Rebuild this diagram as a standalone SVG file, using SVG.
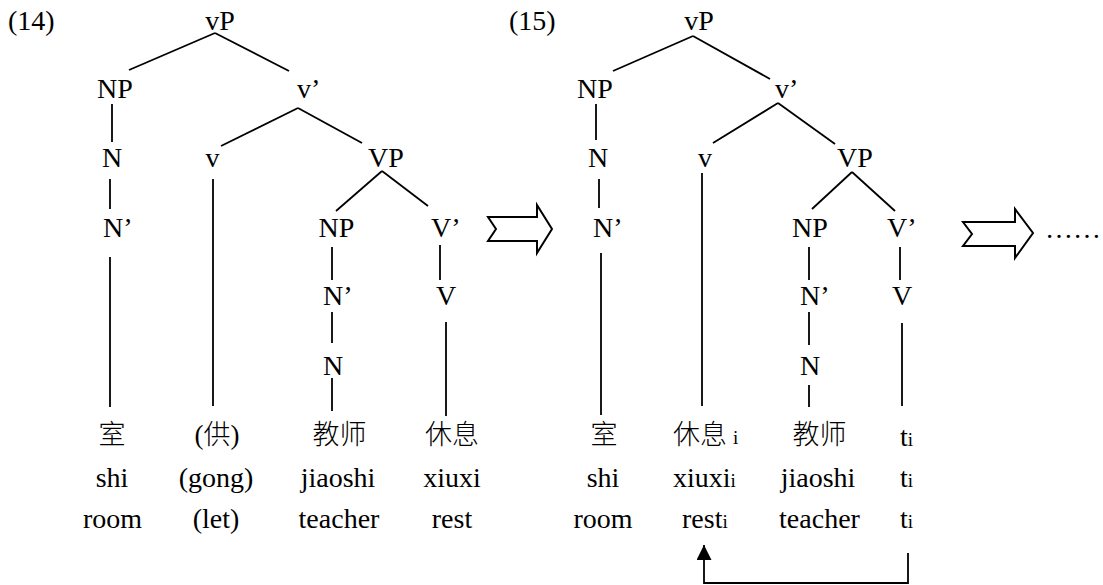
<svg xmlns="http://www.w3.org/2000/svg" width="1103" height="585" viewBox="0 0 1103 585">
<style>
text{font-size:28px;fill:#000}
.m{text-anchor:middle}
.cj{font-size:27px;font-weight:300}
.sub{font-size:19px}
.e line,.e polyline{stroke:#000;stroke-width:1.8;fill:none}
.ar{fill:#fff;stroke:#000;stroke-width:2;stroke-linejoin:miter}
</style>
<defs>
<marker id="ah" viewBox="0 0 10 10" refX="10" refY="5" markerWidth="16" markerHeight="15" orient="auto" markerUnits="userSpaceOnUse">
<path d="M0,0L10,5L0,10z" fill="#000"/>
</marker>
</defs>
<rect width="1103" height="585" fill="#fff"/>
<g font-family="'Liberation Serif', 'Times New Roman', 'DejaVu Serif', serif">
<g id="labels">
<text x="8" y="30">(14)</text>
<text x="509" y="30">(15)</text>
</g>

<g id="tree14">
<g id="t14-vP"><text class="m" x="220" y="30">vP</text></g>
<g id="t14-NP"><text class="m" x="115" y="98">NP</text></g>
<g id="t14-vbar"><text x="297" y="98">v’</text></g>
<g id="t14-N"><text class="m" x="112" y="167">N</text></g>
<g id="t14-v"><text class="m" x="212.5" y="167">v</text></g>
<g id="t14-VP"><text class="m" x="386" y="167">VP</text></g>
<g id="t14-Nbar"><text x="103" y="237">N’</text></g>
<g id="t14-NP2"><text class="m" x="336.5" y="237">NP</text></g>
<g id="t14-Vbar"><text x="431" y="237">V’</text></g>
<g id="t14-Nbar2"><text x="323" y="305">N’</text></g>
<g id="t14-V"><text class="m" x="446" y="305">V</text></g>
<g id="t14-N2"><text class="m" x="333" y="375">N</text></g>
<g id="t14-w1"><text class="m cj" font-family="'Liberation Serif', 'Noto Sans CJK SC', serif" x="112" y="444">室</text><text class="m" x="112" y="487">shi</text><text class="m" x="112.5" y="528">room</text></g>
<g id="t14-w2"><text class="m cj" font-family="'Liberation Serif', 'Noto Sans CJK SC', serif" x="217" y="444">(供)</text><text class="m" x="216" y="487">(gong)</text><text class="m" x="216" y="528">(let)</text></g>
<g id="t14-w3"><text class="m cj" font-family="'Liberation Serif', 'Noto Sans CJK SC', serif" x="339.5" y="444">教师</text><text class="m" x="338" y="487">jiaoshi</text><text class="m" x="339" y="528">teacher</text></g>
<g id="t14-w4"><text class="m cj" font-family="'Liberation Serif', 'Noto Sans CJK SC', serif" x="452" y="444">休息</text><text class="m" x="452" y="487">xiuxi</text><text class="m" x="452" y="528">rest</text></g>
</g>

<g id="tree15">
<g id="t15-vP"><text class="m" x="699" y="30">vP</text></g>
<g id="t15-NP"><text class="m" x="595" y="98">NP</text></g>
<g id="t15-vbar"><text x="775" y="98">v’</text></g>
<g id="t15-N"><text class="m" x="598" y="167">N</text></g>
<g id="t15-v"><text class="m" x="705" y="167">v</text></g>
<g id="t15-VP"><text class="m" x="855" y="167">VP</text></g>
<g id="t15-Nbar"><text x="593" y="237">N’</text></g>
<g id="t15-NP2"><text class="m" x="810" y="237">NP</text></g>
<g id="t15-Vbar"><text x="887" y="237">V’</text></g>
<g id="t15-Nbar2"><text x="800" y="305">N’</text></g>
<g id="t15-V"><text class="m" x="902" y="305">V</text></g>
<g id="t15-N2"><text class="m" x="810" y="375">N</text></g>
<g id="t15-w1"><text class="m cj" font-family="'Liberation Serif', 'Noto Sans CJK SC', serif" x="604" y="444">室</text><text class="m" x="603" y="487">shi</text><text class="m" x="603" y="528">room</text></g>
<g id="t15-w2"><text class="cj" font-family="'Liberation Serif', 'Noto Sans CJK SC', serif" x="673" y="444">休息<tspan class="sub" dx="6">i</tspan></text><text x="673" y="487">xiuxi<tspan class="sub">i</tspan></text><text x="682" y="528">rest<tspan class="sub">i</tspan></text></g>
<g id="t15-w3"><text class="m cj" font-family="'Liberation Serif', 'Noto Sans CJK SC', serif" x="819.5" y="444">教师</text><text class="m" x="818" y="487">jiaoshi</text><text class="m" x="819.5" y="528">teacher</text></g>
<g id="t15-w4"><text x="900" y="446">t<tspan class="sub">i</tspan></text><text x="900" y="487">t<tspan class="sub">i</tspan></text><text x="900" y="528">t<tspan class="sub">i</tspan></text></g>
</g>

<g id="transition1"><polygon class="ar" points="488,217 537,217 537,205 552,229 537,253 537,241 488,241 496,229"/></g>
<g id="transition2"><polygon class="ar" points="963,222 1015,222 1015,209 1033,233 1015,258 1015,246 963,246 972,234"/>
<text x="1045" y="238">……</text></g>
</g>

<g id="connectors" class="e">
<line x1="215" y1="33" x2="129" y2="70"/>
<line x1="215" y1="33" x2="289" y2="71"/>
<line x1="112" y1="104" x2="112" y2="142"/>
<line x1="298" y1="108" x2="221" y2="146"/>
<line x1="298" y1="108" x2="362" y2="143"/>
<line x1="110" y1="179" x2="110" y2="209"/>
<line x1="213" y1="179" x2="213" y2="406"/>
<line x1="382" y1="171" x2="336" y2="211"/>
<line x1="382" y1="171" x2="428" y2="206"/>
<line x1="332" y1="247" x2="332" y2="280"/>
<line x1="440" y1="245" x2="440" y2="280"/>
<line x1="110" y1="257" x2="110" y2="407"/>
<line x1="332" y1="312" x2="332" y2="343"/>
<line x1="332" y1="378" x2="332" y2="411"/>
<line x1="446" y1="322" x2="446" y2="416"/>

<line x1="693" y1="36" x2="613" y2="71"/>
<line x1="693" y1="36" x2="770" y2="79"/>
<line x1="596" y1="104" x2="596" y2="140"/>
<line x1="778" y1="103" x2="713" y2="143"/>
<line x1="778" y1="103" x2="835" y2="144"/>
<line x1="599" y1="179" x2="599" y2="208"/>
<line x1="702" y1="173" x2="702" y2="406"/>
<line x1="852" y1="172" x2="812" y2="209"/>
<line x1="852" y1="172" x2="895" y2="211"/>
<line x1="809" y1="247" x2="809" y2="280"/>
<line x1="900" y1="247" x2="900" y2="280"/>
<line x1="601" y1="253" x2="601" y2="415"/>
<line x1="809" y1="312" x2="809" y2="345"/>
<line x1="809" y1="385" x2="809" y2="407"/>
<line x1="902" y1="323" x2="902" y2="406"/>

<polyline points="908,553 908,583 704,583 704,545" marker-end="url(#ah)"/>
</g>
</svg>
